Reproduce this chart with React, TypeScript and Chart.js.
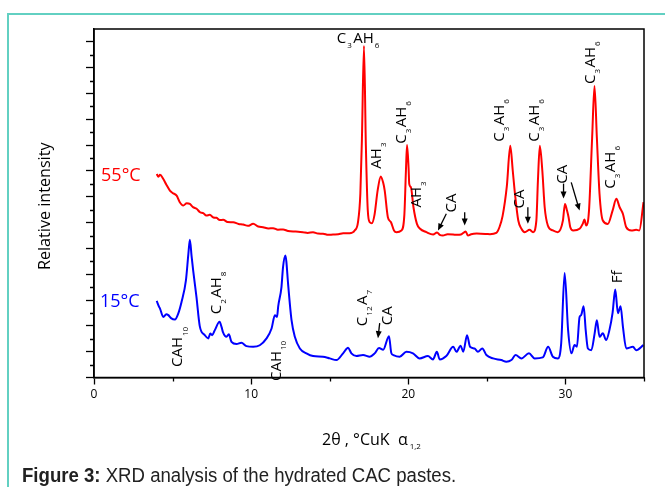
import React, { useEffect, useRef } from "react";
import { Chart, registerables } from "chart.js";

Chart.register(...registerables);

// ---- axis ticks ----
const xMajorTicks = [0, 10, 20, 30];
const xMinorTicks = [5, 15, 25, 35];
const yMinorTicks = [1, 3, 5, 7, 9, 11, 13, 15, 17, 19, 21, 23, 25];

// ---- 55 °C pattern (2θ, relative intensity) ----
const theta55 = [
  3.99, 4.1, 4.2, 4.41, 4.6, 4.83, 5.0, 5.26, 5.45, 5.68, 5.9, 6.1, 6.3, 6.53, 6.75, 6.95, 7.15, 7.37, 7.6, 7.8,
  8.0, 8.22, 8.5, 8.86, 9.2, 9.49, 9.8, 10.13, 10.45, 10.76, 11.1, 11.4, 11.7, 12.03, 12.35, 12.67, 13.0, 13.3,
  13.6, 13.94, 14.25, 14.58, 14.9, 15.21, 15.55, 15.85, 16.27, 16.59, 16.8, 16.95, 17.05, 17.18, 17.3, 17.42,
  17.55, 17.68, 17.85, 18.05, 18.25, 18.4, 18.5, 18.7, 18.9, 19.09, 19.25, 19.56, 19.75, 19.85, 19.92, 20.02,
  20.06, 20.17, 20.33, 20.55, 20.75, 21.15, 21.58, 21.83, 22.0, 22.2, 22.5, 22.85, 23.1, 23.35, 23.55, 23.65,
  23.8, 24.0, 24.35, 24.97, 25.2, 25.6, 25.8, 26.0, 26.27, 26.49, 26.65, 26.79, 27.0, 27.2, 27.41, 27.72, 27.94,
  28.15, 28.25, 28.37, 28.53, 28.68, 28.88, 29.2, 29.52, 29.84, 29.97, 30.1, 30.2, 30.31, 30.5, 30.9, 31.1,
  31.21, 31.32, 31.5, 31.7, 31.85, 32.0, 32.17, 32.38, 32.7, 33.0, 33.24, 33.45, 33.66, 33.87, 34.2, 34.5, 34.7,
  34.97,
];
const intensity55 = [
  15.77, 15.55, 15.7, 15.38, 14.95, 14.48, 14.3, 14.09, 13.6, 13.32, 13.5, 13.45, 13.2, 13.07, 12.8, 12.73, 12.55,
  12.6, 12.4, 12.37, 12.2, 12.22, 12.05, 12.03, 11.9, 11.85, 11.75, 11.91, 11.7, 11.64, 11.55, 11.57, 11.45, 11.47,
  11.35, 11.31, 11.3, 11.26, 11.2, 11.26, 11.15, 11.14, 11.05, 11.08, 11.1, 11.18, 11.18, 11.39, 12.03, 14.25, 18.5,
  25.68, 18.0, 13.0, 12.03, 11.95, 12.6, 14.5, 15.58, 15.1, 14.48, 12.42, 12.03, 11.39, 11.26, 11.39, 12.6, 16.0,
  18.01, 16.2, 15.0, 14.73, 13.19, 11.9, 11.52, 11.26, 11.08, 11.24, 11.05, 11.0, 11.1, 11.08, 11.05, 11.08, 11.25,
  11.31, 11.0, 11.1, 11.15, 11.12, 11.1, 11.2, 11.64, 12.5, 14.8, 17.95, 16.0, 14.22, 12.16, 11.52, 11.26, 11.44,
  11.26, 12.16, 15.25, 17.95, 16.02, 13.19, 11.78, 11.39, 11.26, 12.16, 13.45, 12.93, 12.42, 11.64, 11.39, 11.52,
  11.9, 12.24, 11.78, 12.93, 18.6, 22.59, 18.6, 14.22, 12.16, 11.9, 12.93, 13.84, 13.19, 12.67, 11.64, 11.39, 11.44,
  11.39, 13.58,
];

// ---- 15 °C pattern (2θ, relative intensity) ----
const theta15 = [
  3.99, 4.15, 4.2, 4.41, 4.6, 4.73, 4.9, 5.15, 5.36, 5.57, 5.85, 6.0, 6.1, 6.21, 6.31, 6.52, 6.73, 7.05, 7.27, 7.4,
  7.52, 7.69, 7.99, 8.12, 8.2, 8.43, 8.58, 8.75, 9.07, 9.38, 9.7, 10.13, 10.55, 10.98, 11.3, 11.51, 11.65, 11.72,
  11.93, 12.03, 12.18, 12.24, 12.35, 12.57, 12.78, 13.1, 13.52, 13.94, 14.57, 15.0, 15.43, 15.85, 16.17, 16.38,
  16.7, 17.12, 17.55, 17.86, 18.14, 18.4, 18.77, 18.92, 19.05, 19.45, 19.88, 20.3, 20.72, 21.25, 21.57, 21.82, 22.0,
  22.42, 22.86, 23.07, 23.33, 23.5, 23.74, 23.93, 24.22, 24.43, 24.71, 24.97, 25.4, 25.92, 26.24, 26.56, 26.83,
  27.2, 27.68, 28.04, 28.56, 28.9, 29.2, 29.52, 29.73, 29.95, 30.17, 30.38, 30.58, 30.73, 30.9, 31.0, 31.16, 31.29,
  31.43, 31.65, 31.86, 32.0, 32.17, 32.38, 32.59, 32.8, 33.0, 33.17, 33.34, 33.51, 33.66, 33.87, 34.3, 34.5, 34.96,
];
const intensity15 = [
  5.93, 5.45, 5.34, 4.69, 4.9, 4.83, 4.6, 4.49, 4.95, 5.85, 7.53, 9.5, 10.67, 9.4, 8.3, 6.24, 3.98, 3.28, 3.03, 3.4,
  3.28, 3.67, 4.31, 3.9, 3.54, 3.15, 3.35, 2.76, 2.59, 2.7, 2.43, 2.38, 2.5, 3.03, 3.8, 4.83, 4.7, 5.5, 7.01, 8.56,
  9.46, 9.0, 7.27, 4.44, 3.15, 2.25, 1.87, 1.66, 1.61, 1.48, 1.35, 1.87, 2.3, 1.87, 1.66, 1.74, 1.61, 1.87, 2.28,
  2.15, 3.2, 1.9, 1.74, 1.61, 1.99, 1.87, 1.48, 1.66, 1.4, 1.99, 1.4, 1.66, 2.38, 1.99, 2.46, 2.0, 3.28, 2.38, 2.25,
  1.99, 2.25, 1.74, 1.48, 1.35, 1.22, 1.35, 1.74, 1.48, 1.87, 1.48, 1.56, 2.38, 1.61, 1.48, 2.65, 8.1, 3.67, 1.87,
  2.51, 2.38, 4.69, 4.83, 5.52, 3.67, 2.25, 2.12, 3.42, 4.44, 3.15, 3.42, 2.9, 3.67, 5.0, 6.81, 4.98, 5.52, 3.93,
  2.25, 2.38, 2.12, 2.51,
];

// ---- phase labels: text ("_" = subscript), anchor (2θ, intensity), rotated ----
const labelTexts = [
  "C_3AH_6", "AH_3", "C_3AH_6", "AH_3", "CA", "C_3AH_6", "CA", "C_3AH_6", "CA", "C_3AH_6", "C_3AH_6",
  "CAH_10", "C_2AH_8", "CAH_10", "C_12A_7", "CA", "Ff",
];
const labelTheta = [15.45, 17.97, 19.56, 20.55, 22.74, 25.81, 27.08, 28.04, 29.84, 31.64, 32.91, 5.36, 7.8, 11.61, 17.12, 18.71, 33.33];
const labelIntensity = [26.22, 16.18, 18.11, 13.17, 12.78, 18.26, 13.09, 18.26, 15.02, 22.74, 14.63, 0.81, 4.9, -0.27, 3.98, 4.05, 7.3];
const labelRotated = [false, true, true, true, true, true, true, true, true, true, true, true, true, true, true, true, true];

// ---- arrows: from (2θ, I) to (2θ, I) ----
const arrowFromTheta = [22.42, 23.59, 27.61, 29.88, 30.37, 18.18];
const arrowFromI = [12.68, 12.8, 13.19, 15.02, 15.12, 4.21];
const arrowToTheta = [21.89, 23.59, 27.61, 29.88, 30.9, 18.07];
const arrowToI = [11.39, 11.78, 11.91, 13.86, 12.93, 3.05];

// ---- series labels ----
const seriesNames = ["55°C", "15°C"];
const seriesLabelTheta = [0.45, 0.38];
const seriesLabelI = [15.64, 5.85];

const FONT = '"Open Sans", "DejaVu Sans", sans-serif';

function parseFormula(s: string): [string, boolean][] {
  const out: [string, boolean][] = [];
  let i = 0;
  while (i < s.length) {
    if (s[i] === "_") {
      let j = i + 1;
      while (j < s.length && /[0-9]/.test(s[j])) j++;
      out.push([s.slice(i + 1, j), true]);
      i = j;
    } else {
      let j = i;
      while (j < s.length && s[j] !== "_") j++;
      out.push([s.slice(i, j), false]);
      i = j;
    }
  }
  return out;
}

function drawFormula(ctx: CanvasRenderingContext2D, text: string, px: number, py: number, rotated: boolean) {
  ctx.save();
  ctx.translate(px, py);
  if (rotated) ctx.rotate(-Math.PI / 2);
  ctx.fillStyle = "#000";
  ctx.textBaseline = "middle";
  ctx.textAlign = "left";
  let cx = 0;
  for (const [seg, sub] of parseFormula(text)) {
    ctx.font = sub ? `8px ${FONT}` : `15px ${FONT}`;
    if (sub) cx += 1;
    ctx.fillText(seg, cx, sub ? 7 : 0);
    cx += ctx.measureText(seg).width + (sub ? 1.5 : 0);
  }
  ctx.restore();
}

function drawArrow(ctx: CanvasRenderingContext2D, x1: number, y1: number, x2: number, y2: number) {
  const ang = Math.atan2(y2 - y1, x2 - x1);
  const head = 7;
  const w = 3;
  ctx.save();
  ctx.strokeStyle = "#000";
  ctx.fillStyle = "#000";
  ctx.lineWidth = 1.3;
  ctx.beginPath();
  ctx.moveTo(x1, y1);
  ctx.lineTo(x2 - Math.cos(ang) * head * 0.8, y2 - Math.sin(ang) * head * 0.8);
  ctx.stroke();
  ctx.beginPath();
  ctx.moveTo(x2, y2);
  ctx.lineTo(x2 - Math.cos(ang) * head - Math.sin(ang) * w, y2 - Math.sin(ang) * head + Math.cos(ang) * w);
  ctx.lineTo(x2 - Math.cos(ang) * head + Math.sin(ang) * w, y2 - Math.sin(ang) * head - Math.cos(ang) * w);
  ctx.closePath();
  ctx.fill();
  ctx.restore();
}

const decorPlugin = {
  id: "decor",
  afterDraw(chart: any) {
    const { ctx, chartArea: a, scales } = chart;
    const x = scales.x;
    const y = scales.y;
    ctx.save();
    // frame
    ctx.strokeStyle = "#000";
    ctx.lineWidth = 1.5;
    ctx.strokeRect(a.left, a.top, a.right - a.left, a.bottom - a.top);
    // minor ticks
    ctx.lineWidth = 1.3;
    ctx.beginPath();
    for (const t of xMinorTicks) {
      const px = Math.round(x.getPixelForValue(t)) + 0.5;
      ctx.moveTo(px, a.bottom);
      ctx.lineTo(px, a.bottom + 4);
    }
    for (const v of yMinorTicks) {
      const py = Math.round(y.getPixelForValue(v)) + 0.5;
      ctx.moveTo(a.left - 4, py);
      ctx.lineTo(a.left, py);
    }
    ctx.stroke();

    // axis titles
    ctx.fillStyle = "#000";
    ctx.textBaseline = "middle";
    ctx.save();
    ctx.translate(45, (a.top + a.bottom) / 2 + 3);
    ctx.rotate(-Math.PI / 2);
    ctx.scale(0.95, 1);
    ctx.textAlign = "center";
    ctx.font = `17px ${FONT}`;
    ctx.fillText("Relative intensity", 0, 0);
    ctx.restore();

    ctx.textAlign = "left";
    ctx.font = `16px ${FONT}`;
    const tx = 322;
    const ty = 440;
    const main = "2θ , °CuK  α";
    ctx.fillText(main, tx, ty);
    const mw = ctx.measureText(main).width;
    ctx.font = `8px ${FONT}`;
    ctx.fillText("1,2", tx + mw + 2, ty + 7);

    // series labels
    const colors = ["#ff0000", "#0000ff"];
    for (let i = 0; i < seriesNames.length; i++) {
      ctx.fillStyle = colors[i];
      ctx.font = `18px ${FONT}`;
      ctx.fillText(seriesNames[i], x.getPixelForValue(seriesLabelTheta[i]), y.getPixelForValue(seriesLabelI[i]));
    }

    // phase labels
    for (let i = 0; i < labelTexts.length; i++) {
      drawFormula(ctx, labelTexts[i], x.getPixelForValue(labelTheta[i]), y.getPixelForValue(labelIntensity[i]), labelRotated[i]);
    }
    // arrows
    for (let i = 0; i < arrowFromTheta.length; i++) {
      drawArrow(
        ctx,
        x.getPixelForValue(arrowFromTheta[i]),
        y.getPixelForValue(arrowFromI[i]),
        x.getPixelForValue(arrowToTheta[i]),
        y.getPixelForValue(arrowToI[i])
      );
    }
    ctx.restore();
  },
};

export default function App() {
  const ref = useRef<HTMLCanvasElement | null>(null);
  useEffect(() => {
    if (!ref.current) return;
    const toPts = (xs: number[], ys: number[]) => xs.map((v, i) => ({ x: v, y: ys[i] }));
    const chart = new Chart(ref.current, {
      type: "line",
      data: {
        datasets: [
          {
            label: seriesNames[0],
            data: toPts(theta55, intensity55),
            borderColor: "#ff0000",
            borderWidth: 2,
            pointRadius: 0,
            cubicInterpolationMode: "monotone",
          },
          {
            label: seriesNames[1],
            data: toPts(theta15, intensity15),
            borderColor: "#0000ff",
            borderWidth: 2,
            pointRadius: 0,
            cubicInterpolationMode: "monotone",
          },
        ],
      },
      options: {
        animation: false,
        responsive: false,
        devicePixelRatio: 1,
        layout: { padding: { left: 20, right: 21, top: 29, bottom: 0 } },
        plugins: { legend: { display: false }, tooltip: { enabled: false } },
        scales: {
          x: {
            type: "linear",
            min: 0,
            max: 35,
            afterFit: (s: any) => {
              s.height = 109.5;
            },
            ticks: {
              stepSize: 10,
              includeBounds: false,
              color: "#000",
              font: { family: FONT, size: 12 },
              padding: 3,
              maxRotation: 0,
            },
            afterBuildTicks: (s: any) => {
              s.ticks = xMajorTicks.map((v) => ({ value: v }));
            },
            grid: { drawOnChartArea: false, drawTicks: true, tickLength: 7, color: "#000", tickWidth: 1.3 },
            border: { display: true, color: "#000", width: 1.5 },
          },
          y: {
            type: "linear",
            min: 0,
            max: 27,
            afterFit: (s: any) => {
              s.width = 74;
            },
            ticks: { display: false, stepSize: 2, includeBounds: false },
            grid: { drawOnChartArea: false, drawTicks: true, tickLength: 8, color: "#000", tickWidth: 1.3 },
            border: { display: true, color: "#000", width: 1.5 },
          },
        },
      },
      plugins: [decorPlugin],
    } as any);
    return () => chart.destroy();
  }, []);

  return (
    <div style={{ position: "fixed", left: 0, top: 0, width: 665, height: 487, overflow: "hidden", background: "#fff" }}>
      <div
        style={{
          position: "absolute",
          left: 7,
          top: 13,
          width: 720,
          height: 540,
          border: "2px solid #62d0c2",
          boxSizing: "border-box",
        }}
      />
      <canvas ref={ref} width={665} height={487} style={{ position: "absolute", left: 0, top: 0 }} />
      <div
        style={{
          position: "absolute",
          left: 22,
          top: 463,
          fontFamily: '"Liberation Sans", Arial, sans-serif',
          fontSize: 20,
          lineHeight: "24px",
          color: "#222",
          whiteSpace: "nowrap",
          transform: "scaleX(0.93)",
          transformOrigin: "left center",
        }}
      >
        <b>Figure 3:</b> XRD analysis of the hydrated CAC pastes.
      </div>
    </div>
  );
}
